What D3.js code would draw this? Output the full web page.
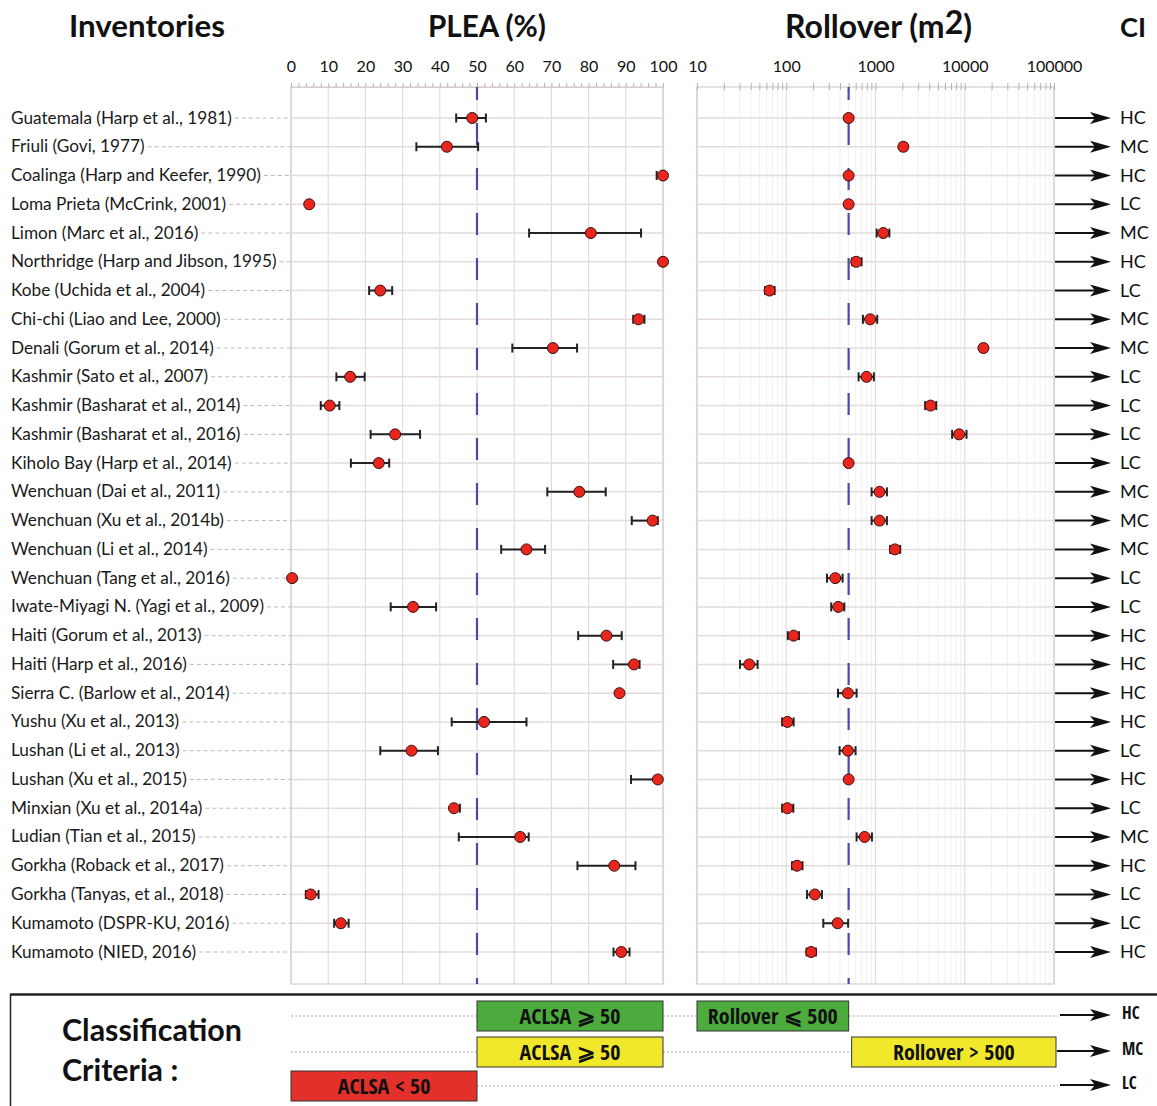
<!DOCTYPE html>
<html>
<head>
<meta charset="utf-8">
<script src="https://cdn.jsdelivr.net/npm/d3@7"></script>
<style>
  body { margin: 0; background: #fff; }
  svg { display: block; }
</style>
</head>
<body>
<script>
// inventories, top to bottom
var inventories = [
  "Guatemala (Harp et al., 1981)", "Friuli (Govi, 1977)", "Coalinga (Harp and Keefer, 1990)",
  "Loma Prieta (McCrink, 2001)", "Limon (Marc et al., 2016)", "Northridge (Harp and Jibson, 1995)",
  "Kobe (Uchida et al., 2004)", "Chi-chi (Liao and Lee, 2000)", "Denali (Gorum et al., 2014)",
  "Kashmir (Sato et al., 2007)", "Kashmir (Basharat et al., 2014)", "Kashmir (Basharat et al., 2016)",
  "Kiholo Bay (Harp et al., 2014)", "Wenchuan (Dai et al., 2011)", "Wenchuan (Xu et al., 2014b)",
  "Wenchuan (Li et al., 2014)", "Wenchuan (Tang et al., 2016)", "Iwate-Miyagi N. (Yagi et al., 2009)",
  "Haiti (Gorum et al., 2013)", "Haiti (Harp et al., 2016)", "Sierra C. (Barlow et al., 2014)",
  "Yushu (Xu et al., 2013)", "Lushan (Li et al., 2013)", "Lushan (Xu et al., 2015)",
  "Minxian (Xu et al., 2014a)", "Ludian (Tian et al., 2015)", "Gorkha (Roback et al., 2017)",
  "Gorkha (Tanyas, et al., 2018)", "Kumamoto (DSPR-KU, 2016)", "Kumamoto (NIED, 2016)"
];
// PLEA (%) and its range
var plea   = [48.7, 41.9, 100, 4.9, 80.6, 100, 24.0, 93.4, 70.4, 15.9, 10.4, 28.0, 23.6, 77.5, 97.2,
              63.3, 0.3, 32.8, 84.8, 92.2, 88.3, 51.9, 32.4, 98.6, 43.8, 61.6, 86.9, 5.3, 13.4, 88.8];
var pleaLo = [44.4, 33.7, 98.3, null, 64.0, null, 21.0, 92.0, 59.5, 12.2, 8.0, 21.4, 16.1, 68.9, 91.6,
              56.5, null, 26.8, 77.2, 86.6, null, 43.2, 24.0, 91.4, 43.1, 45.1, 77.0, 4.0, 11.6, 86.7];
var pleaHi = [52.4, 50.3, 100, null, 94.1, null, 27.2, 95.0, 76.9, 19.8, 13.0, 34.7, 26.4, 84.6, 98.6,
              68.3, null, 39.0, 88.9, 93.7, null, 63.3, 39.5, 99.2, 45.4, 63.9, 92.6, 7.4, 15.5, 91.0];
// rollover (m2) and its range
var roll   = [500, 2050, 500, 500, 1220, 608, 65, 873, 16200, 794, 4140, 8650, 500, 1110, 1110,
              1650, 354, 382, 121, 38.5, 491, 103, 491, 500, 103, 755, 132, 209, 376, 190];
var rollLo = [null, 1900, 480, null, 1030, 548, 58, 723, 15000, 647, 3600, 7220, null, 904, 904,
              1460, 286, 319, 104, 30.3, 380, 90, 396, null, 90, 614, 116, 171, 260, 169];
var rollHi = [null, 2220, 520, null, 1430, 698, 74, 1045, 17400, 959, 4790, 10470, null, 1343, 1343,
              1890, 428, 447, 139, 47.7, 614, 121, 598, null, 120, 912, 152, 251, 494, 215];
// confidence index
var ci = ["HC", "MC", "HC", "LC", "MC", "HC", "LC", "MC", "MC", "LC", "LC", "LC", "LC", "MC", "MC",
          "MC", "LC", "LC", "HC", "HC", "HC", "HC", "LC", "HC", "LC", "MC", "HC", "LC", "LC", "HC"];

var pleaTicks = [0, 10, 20, 30, 40, 50, 60, 70, 80, 90, 100];
var rollTicks = [10, 100, 1000, 10000, 100000];
var pleaLimit = 50, rollLimit = 500;

// classification criteria
var critLabels = ["HC", "MC", "LC"];
var critPlea = ["ACLSA \u2A7E 50", "ACLSA \u2A7E 50", "ACLSA < 50"];
var critRoll = ["Rollover \u2A7D 500", "Rollover > 500", null];

var W = 1157, H = 1106;
var top0 = 87, bot0 = 984;
var gridCol = "#e3dcdc", borderCol = "#d6cccc", blue = "#4a4aa8";
var font = "Lato, 'Open Sans', sans-serif";
var condensed = "'Liberation Sans Narrow', 'Open Sans Condensed', Lato, sans-serif";

var svg = d3.select("body").append("svg").attr("width", W).attr("height", H)
    .style("font-family", font);

var xL = d3.scaleLinear().domain([0, 100]).range([291, 663]);
var xR = d3.scaleLog().domain([10, 100000]).range([697, 1054]);
var y = d3.scalePoint().domain(inventories).range([118, 952]);

function fit(sel, w) {
  var cur = sel.node().getComputedTextLength();
  var fs = parseFloat(sel.style("font-size"));
  sel.style("font-size", (fs * w / cur) + "px");
}

// headers
var hdr = svg.append("g").attr("font-weight", "bold").attr("fill", "#111");
fit(hdr.append("text").attr("x", 69).attr("y", 37).style("font-size", "28px").text("Inventories"), 156);
fit(hdr.append("text").attr("x", 428).attr("y", 37).style("font-size", "28px").text("PLEA (%)"), 118);
var rt = hdr.append("text").attr("x", 785).attr("y", 38).style("font-size", "28px");
rt.append("tspan").text("Rollover (m");
rt.append("tspan").attr("dy", -4).text("2");
rt.append("tspan").attr("dy", 4).text(")");
fit(rt, 187);
fit(hdr.append("text").attr("x", 1120).attr("y", 37).style("font-size", "28px").text("CI"), 26);

// vertical grid
svg.append("g").selectAll("line").data(d3.range(0, 101, 10)).join("line")
  .attr("x1", d => xL(d)).attr("x2", d => xL(d)).attr("y1", top0).attr("y2", bot0)
  .attr("stroke", gridCol).attr("stroke-width", 1.2);

var minorR = [];
rollTicks.slice(0, -1).forEach(function (t) { for (var k = 2; k < 10; k++) minorR.push(t * k); });
svg.append("g").selectAll("line").data(minorR).join("line")
  .attr("x1", d => xR(d)).attr("x2", d => xR(d)).attr("y1", top0).attr("y2", bot0)
  .attr("stroke", "#f1f0f0").attr("stroke-width", 1);
svg.append("g").selectAll("line").data(rollTicks).join("line")
  .attr("x1", d => xR(d)).attr("x2", d => xR(d)).attr("y1", top0).attr("y2", bot0)
  .attr("stroke", gridCol).attr("stroke-width", 1.2);

// row lines
var rows = svg.append("g");
inventories.forEach(function (n) {
  rows.append("line").attr("x1", xL(0)).attr("x2", xL(100)).attr("y1", y(n)).attr("y2", y(n))
    .attr("stroke", gridCol).attr("stroke-width", 1.5);
  rows.append("line").attr("x1", xR(10)).attr("x2", xR(100000)).attr("y1", y(n)).attr("y2", y(n))
    .attr("stroke", gridCol).attr("stroke-width", 1.5);
});

// panel borders
svg.append("rect").attr("x", xL(0)).attr("y", top0).attr("width", xL(100) - xL(0)).attr("height", bot0 - top0)
  .attr("fill", "none").attr("stroke", borderCol).attr("stroke-width", 1.2);
svg.append("rect").attr("x", xR(10)).attr("y", top0).attr("width", xR(100000) - xR(10)).attr("height", bot0 - top0)
  .attr("fill", "none").attr("stroke", borderCol).attr("stroke-width", 1.2);

// top axes
var axL = svg.append("g").attr("transform", "translate(0," + top0 + ")")
  .call(d3.axisTop(xL).tickValues(d3.range(0, 101, 2)).tickSize(4).tickFormat(""));
var axLl = svg.append("g").attr("transform", "translate(0," + top0 + ")")
  .call(d3.axisTop(xL).tickValues(pleaTicks).tickSize(0).tickPadding(15).tickFormat(d3.format("d")));
var axR = svg.append("g").attr("transform", "translate(0," + (top0 + 3) + ")")
  .call(d3.axisTop(xR).tickValues(minorR.concat(rollTicks)).tickSize(7).tickFormat(""));
var axRl = svg.append("g").attr("transform", "translate(0," + top0 + ")")
  .call(d3.axisTop(xR).tickValues(rollTicks).tickSize(0).tickPadding(15).tickFormat(d3.format("d")));
[axL, axLl, axR, axRl].forEach(function (a) {
  a.select(".domain").attr("stroke", borderCol);
  a.selectAll(".tick line").attr("stroke", "#b8b0b0");
  a.selectAll("text").attr("fill", "#111").style("font-size", "16px").style("font-family", font);
});
axLl.select(".domain").remove(); axRl.select(".domain").remove(); axR.select(".domain").remove();

// limit lines
[[xL(pleaLimit)], [xR(rollLimit)]].forEach(function (p) {
  svg.append("line").attr("x1", p[0]).attr("x2", p[0]).attr("y1", top0).attr("y2", bot0)
    .attr("stroke", blue).attr("stroke-width", 2.2)
    .attr("stroke-dasharray", "22,23").attr("stroke-dashoffset", 9);
});

// labels and leaders
var lab = svg.append("g");
var probe = lab.append("text").attr("x", 11).attr("y", y(inventories[0]) + 5)
  .style("font-size", "16px").text(inventories[0]);
fit(probe, 221);
var labSize = probe.style("font-size");
probe.remove();
inventories.forEach(function (n) {
  var t = lab.append("text").attr("x", 11).attr("y", y(n) + 5.5).style("font-size", labSize)
    .attr("fill", "#1a1a1a").text(n);
  var w = t.node().getComputedTextLength();
  lab.append("line").attr("x1", 11 + w + 3).attr("x2", xL(0)).attr("y1", y(n)).attr("y2", y(n))
    .attr("stroke", "#bbb").attr("stroke-width", 1).attr("stroke-dasharray", "4,3");
});

// error bars + points
function errBars(g, xs, lo, hi) {
  inventories.forEach(function (n, i) {
    if (lo[i] == null) return;
    var yy = y(n);
    g.append("line").attr("x1", xs(lo[i])).attr("x2", xs(hi[i])).attr("y1", yy).attr("y2", yy);
    g.append("line").attr("x1", xs(lo[i])).attr("x2", xs(lo[i])).attr("y1", yy - 4.5).attr("y2", yy + 4.5);
    g.append("line").attr("x1", xs(hi[i])).attr("x2", xs(hi[i])).attr("y1", yy - 4.5).attr("y2", yy + 4.5);
  });
}
errBars(svg.append("g").attr("stroke", "#222").attr("stroke-width", 2), xL, pleaLo, pleaHi);
errBars(svg.append("g").attr("stroke", "#222").attr("stroke-width", 2), xR, rollLo, rollHi);

svg.append("g").selectAll("circle").data(inventories).join("circle")
  .attr("cx", (d, i) => xL(plea[i])).attr("cy", d => y(d)).attr("r", 5.5)
  .attr("fill", "#e8261d").attr("stroke", "#3a1010").attr("stroke-width", 1);
svg.append("g").selectAll("circle").data(inventories).join("circle")
  .attr("cx", (d, i) => xR(roll[i])).attr("cy", d => y(d)).attr("r", 5.5)
  .attr("fill", "#e8261d").attr("stroke", "#3a1010").attr("stroke-width", 1);

// arrows to CI
function arrow(g, x0, x1, yy) {
  g.append("line").attr("x1", x0).attr("x2", x1 - 16).attr("y1", yy).attr("y2", yy)
    .attr("stroke", "#111").attr("stroke-width", 2);
  g.append("path").attr("d", "M" + x1 + "," + yy + " L" + (x1 - 21) + "," + (yy - 6) +
      " L" + (x1 - 16) + "," + yy + " L" + (x1 - 21) + "," + (yy + 6) + " Z").attr("fill", "#111");
}
var arr = svg.append("g");
inventories.forEach(function (n, i) {
  arrow(arr, 1055, 1111, y(n));
  arr.append("text").attr("x", 1120).attr("y", y(n) + 6).style("font-size", "18px")
    .attr("fill", "#111").text(ci[i]);
});

// classification criteria
svg.append("line").attr("x1", 10).attr("x2", W).attr("y1", 994.5).attr("y2", 994.5)
  .attr("stroke", "#222").attr("stroke-width", 2.5);
svg.append("line").attr("x1", 10.5).attr("x2", 10.5).attr("y1", 994).attr("y2", H)
  .attr("stroke", "#222").attr("stroke-width", 1.5);

var cc = svg.append("g").attr("font-weight", "bold").attr("fill", "#111");
fit(cc.append("text").attr("x", 62).attr("y", 1041).style("font-size", "30px").text("Classification"), 180);
cc.append("text").attr("x", 62).attr("y", 1081).style("font-size", cc.select("text").style("font-size")).text("Criteria :");

var rowY = [1016, 1052, 1086];
var colors = { HC: "#4dab3e", MC: "#f1e82c", LC: "#e3302a" };
var leg = svg.append("g");
var boxH = 30;
critLabels.forEach(function (c, i) {
  var yy = rowY[i];
  // PLEA box: above limit -> [50,100], below -> [0,50]
  var pb = c === "LC" ? [xL(0), xL(pleaLimit)] : [xL(pleaLimit), xL(100)];
  var rb = critRoll[i] == null ? null : (c === "HC" ? [xR(10), xR(rollLimit)] : [xR(rollLimit) + 3, xR(100000) + 2]);
  // dotted leaders
  var dots = [[xL(0), pb[0]], [pb[1], rb ? rb[0] : 1058]];
  if (rb && c === "HC") dots.push([rb[1], 1058]);
  dots.forEach(function (s) {
    if (s[1] - s[0] < 2) return;
    leg.append("line").attr("x1", s[0]).attr("x2", s[1]).attr("y1", yy).attr("y2", yy)
      .attr("stroke", "#aaa").attr("stroke-width", 1).attr("stroke-dasharray", "2,2");
  });
  [[pb, critPlea[i]], [rb, critRoll[i]]].forEach(function (b) {
    if (!b[0]) return;
    leg.append("rect").attr("x", b[0][0]).attr("y", yy - boxH / 2).attr("width", b[0][1] - b[0][0])
      .attr("height", boxH).attr("fill", colors[c]).attr("stroke", "#333").attr("stroke-width", 1);
    leg.append("text").attr("x", (b[0][0] + b[0][1]) / 2).attr("y", yy + 7.5)
      .attr("text-anchor", "middle").attr("font-weight", "bold").style("font-family", condensed)
      .style("font-size", "22px").attr("fill", "#111").text(b[1]);
  });
  arrow(leg, c === "MC" ? 1057 : 1060, 1111, yy - 1);
  leg.append("text").attr("x", 1122).attr("y", yy + 3).attr("font-weight", "bold")
    .style("font-family", condensed).style("font-size", "17px").attr("fill", "#111").text(c);
});
</script>
</body>
</html>
